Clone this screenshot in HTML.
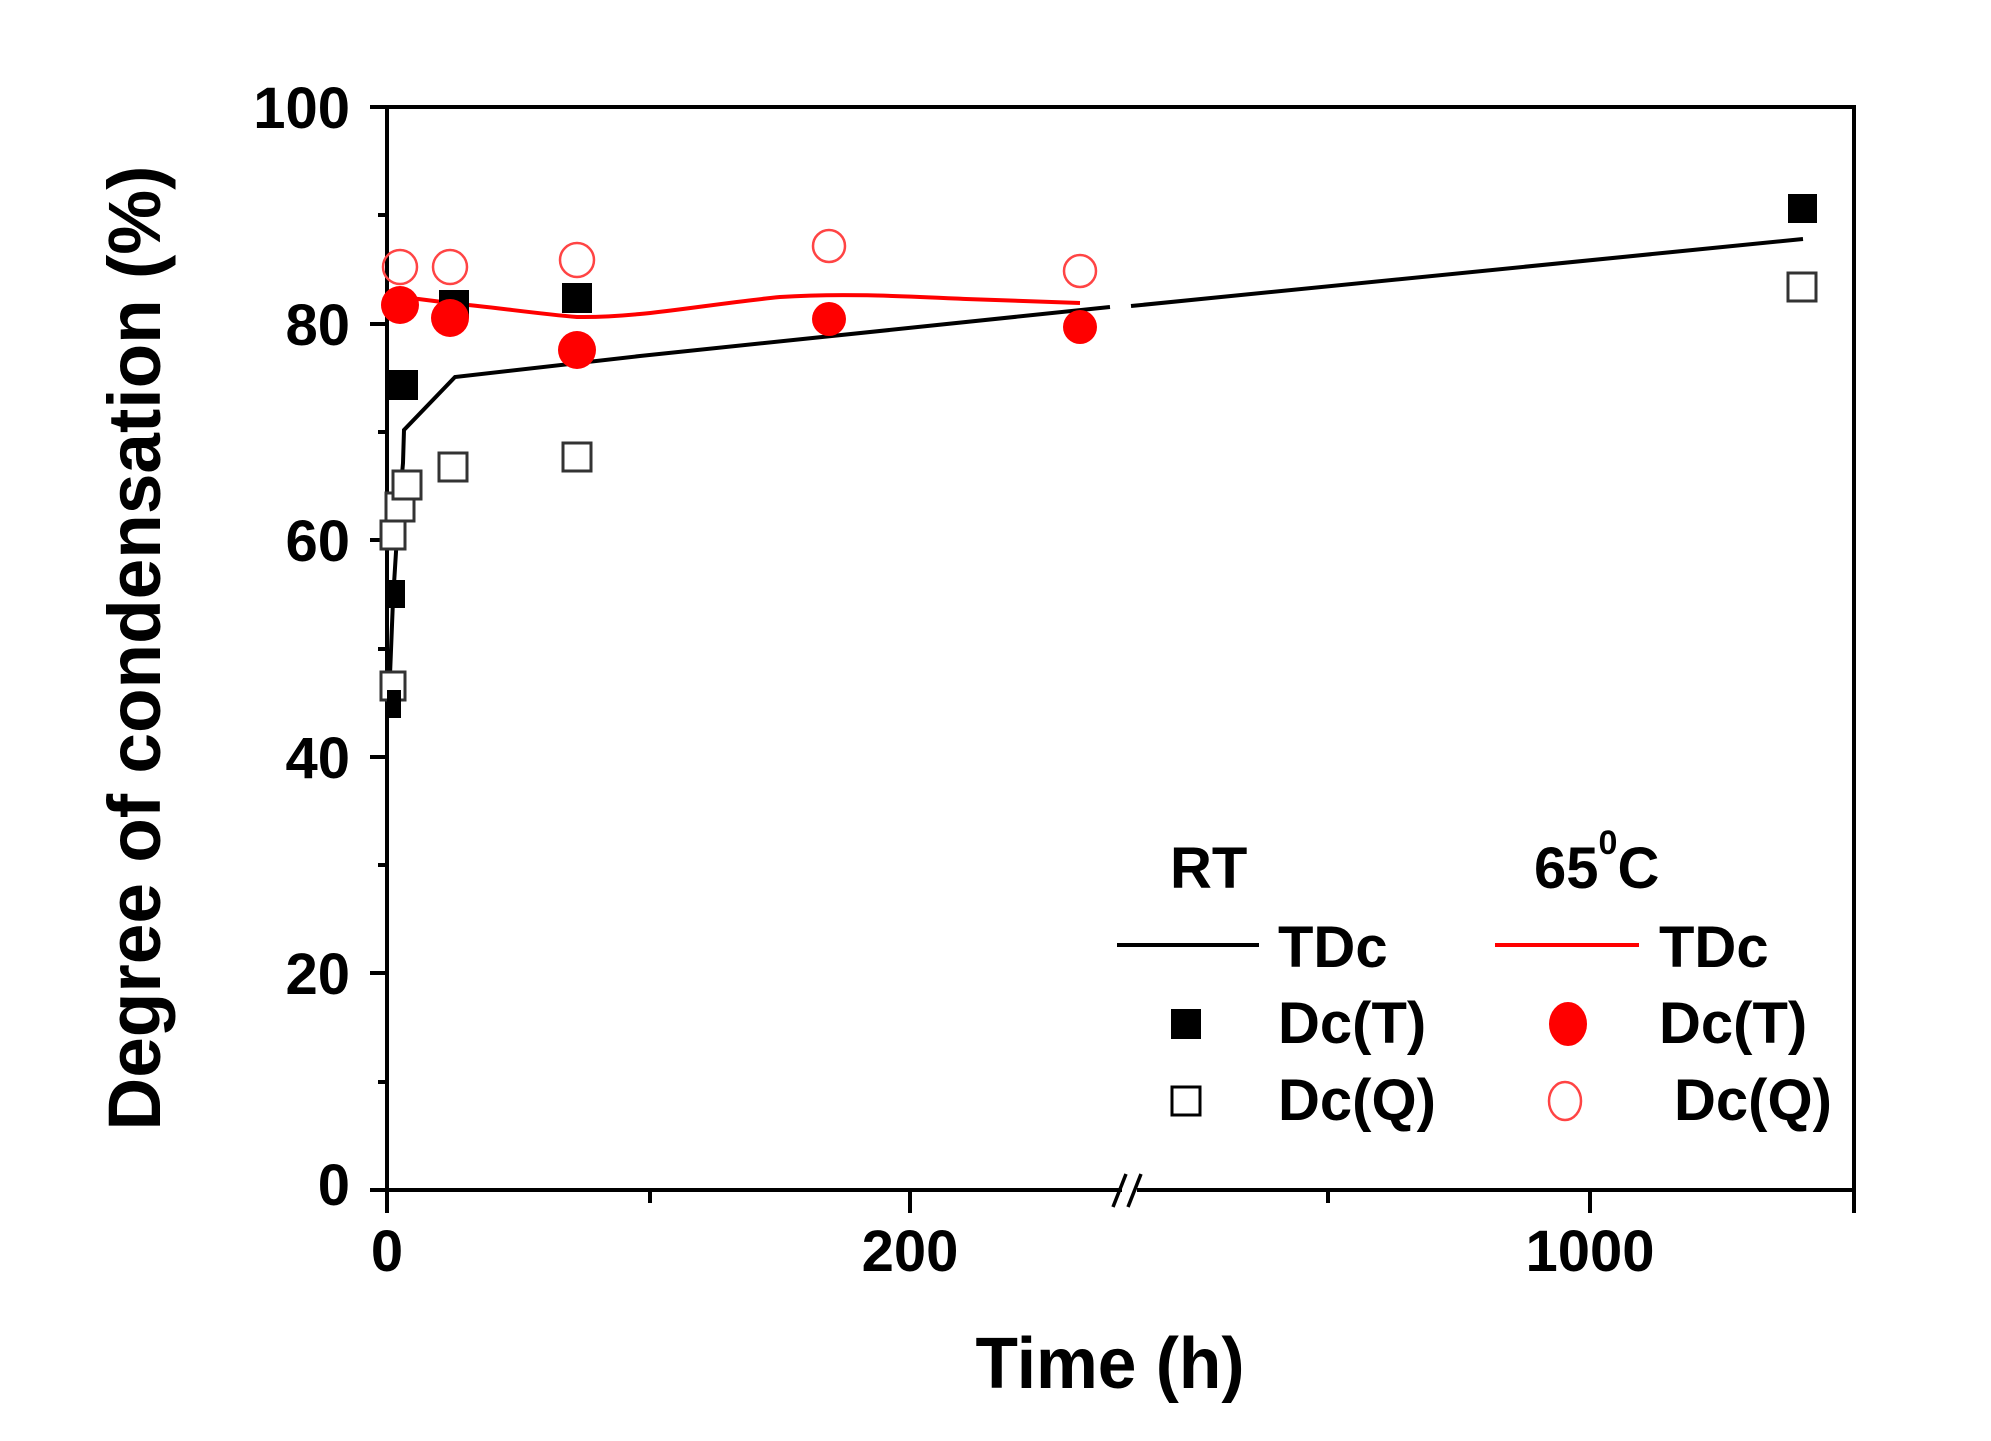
<!DOCTYPE html>
<html><head><meta charset="utf-8"><style>
html,body{margin:0;padding:0;background:#fff;}
svg{display:block;}
text{font-family:"Liberation Sans",Arial,sans-serif;font-weight:bold;fill:#000;}
</style></head><body>
<svg width="1991" height="1441" viewBox="0 0 1991 1441" xmlns="http://www.w3.org/2000/svg">
<rect width="1991" height="1441" fill="#fff"/>
<g stroke="#000" stroke-width="4" fill="none">
<line x1="387" y1="107" x2="1854" y2="107"/>
<line x1="387" y1="105" x2="387" y2="1192"/>
<line x1="1854" y1="105" x2="1854" y2="1192"/>
<line x1="370" y1="1190" x2="1122" y2="1190"/>
<line x1="1137" y1="1190" x2="1856" y2="1190"/>
<line x1="370" y1="107" x2="387" y2="107"/>
<line x1="370" y1="324" x2="387" y2="324"/>
<line x1="370" y1="540" x2="387" y2="540"/>
<line x1="370" y1="757" x2="387" y2="757"/>
<line x1="370" y1="973" x2="387" y2="973"/>
<line x1="378" y1="215" x2="387" y2="215"/>
<line x1="378" y1="432" x2="387" y2="432"/>
<line x1="378" y1="649" x2="387" y2="649"/>
<line x1="378" y1="865" x2="387" y2="865"/>
<line x1="378" y1="1082" x2="387" y2="1082"/>
<line x1="387" y1="1190" x2="387" y2="1213"/>
<line x1="650" y1="1190" x2="650" y2="1203"/>
<line x1="910" y1="1190" x2="910" y2="1213"/>
<line x1="1328" y1="1190" x2="1328" y2="1203"/>
<line x1="1590" y1="1190" x2="1590" y2="1213"/>
<line x1="1854" y1="1190" x2="1854" y2="1213"/>
</g>
<g stroke="#000" stroke-width="3.5">
<line x1="1113" y1="1207" x2="1126" y2="1174"/>
<line x1="1128" y1="1207" x2="1141" y2="1174"/>
</g>
<g font-size="58" text-anchor="end">
<text x="350" y="128">100</text>
<text x="350" y="345">80</text>
<text x="350" y="561">60</text>
<text x="350" y="778">40</text>
<text x="350" y="994">20</text>
<text x="350" y="1205">0</text>
</g>
<g font-size="58" text-anchor="middle">
<text x="387" y="1271">0</text>
<text x="910" y="1271">200</text>
<text x="1590" y="1271">1000</text>
</g>
<text x="1110" y="1388" font-size="72" text-anchor="middle" textLength="269" lengthAdjust="spacingAndGlyphs">Time (h)</text>
<text transform="translate(160,648) rotate(-90)" font-size="74" text-anchor="middle" textLength="965" lengthAdjust="spacingAndGlyphs">Degree of condensation (%)</text>
<polyline fill="none" stroke="#000" stroke-width="4" points="389,700 393,600 398,520 403,463 404,430 455,377 640,356 1110,307"/>
<polyline fill="none" stroke="#000" stroke-width="4" points="1131,306 1803,239"/>
<path fill="none" stroke="#f00" stroke-width="4" d="M387,295 L450,303 C500,308 540,314 577,317 C640,318 700,305 780,297 C840,293 900,296 966,299 L1080,303"/>
<g fill="#fff" stroke="#333" stroke-width="3">
<rect x="381" y="672" width="24" height="28"/>
<rect x="381" y="521" width="24" height="28"/>
<rect x="386" y="493" width="28" height="28"/>
<rect x="393" y="471" width="28" height="28"/>
<rect x="439" y="453" width="28" height="28"/>
<rect x="563" y="443" width="28" height="28"/>
<rect x="1788" y="273" width="28" height="28"/>
</g>
<g fill="#000">
<rect x="387" y="690" width="14" height="28"/>
<rect x="387" y="580" width="18" height="28"/>
<rect x="388" y="370" width="30" height="30"/>
<rect x="439" y="290" width="30" height="28"/>
<rect x="562" y="283" width="30" height="30"/>
<rect x="1788" y="194" width="29" height="29"/>
</g>
<g fill="#f00">
<circle cx="400" cy="305" r="19"/>
<circle cx="450" cy="318" r="19"/>
<circle cx="577" cy="350" r="19"/>
<circle cx="829" cy="319" r="17"/>
<circle cx="1080" cy="327" r="17"/>
</g>
<g fill="none" stroke="#f44" stroke-width="2.5">
<circle cx="400" cy="267" r="17"/>
<circle cx="450" cy="267" r="17"/>
<circle cx="577" cy="260" r="17"/>
<circle cx="829" cy="246" r="16"/>
<circle cx="1080" cy="271" r="16"/>
</g>
<g font-size="58">
<text x="1170" y="888">RT</text>
<text x="1534" y="888">65<tspan font-size="34" dy="-34">0</tspan><tspan dy="34">C</tspan></text>
<text x="1278" y="967">TDc</text>
<text x="1659" y="967">TDc</text>
<text x="1278" y="1043">Dc(T)</text>
<text x="1659" y="1043">Dc(T)</text>
<text x="1278" y="1120">Dc(Q)</text>
<text x="1674" y="1120">Dc(Q)</text>
</g>
<line x1="1117" y1="945" x2="1259" y2="945" stroke="#000" stroke-width="4"/>
<line x1="1495" y1="945" x2="1639" y2="945" stroke="#f00" stroke-width="4"/>
<rect x="1171" y="1009" width="30" height="30" fill="#000"/>
<rect x="1172" y="1087" width="28" height="28" fill="#fff" stroke="#000" stroke-width="3"/>
<ellipse cx="1568" cy="1024" rx="19" ry="22" fill="#f00"/>
<ellipse cx="1565" cy="1101" rx="16" ry="19" fill="none" stroke="#f44" stroke-width="2.5"/>
</svg>
</body></html>
